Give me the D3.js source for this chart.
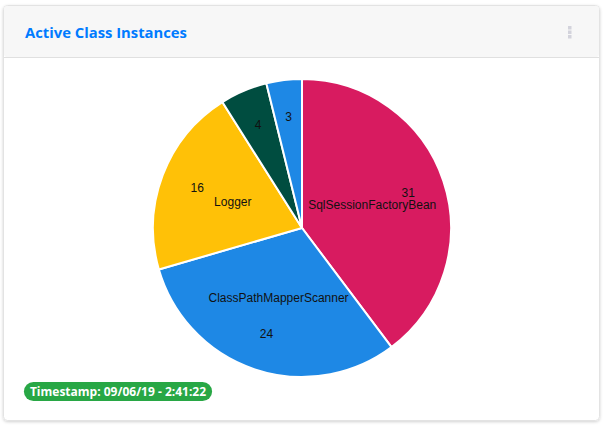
<!DOCTYPE html>
<html>
<head>
<meta charset="utf-8">
<script src="https://cdn.jsdelivr.net/npm/d3@7"></script>
<style>
  html, body { margin: 0; padding: 0; background: #fff; }
  body { width: 604px; height: 425px; overflow: hidden; }
</style>
</head>
<body>
<svg id="chart" width="604" height="425"></svg>
<script>
// data
const categories = ["SqlSessionFactoryBean", "ClassPathMapperScanner", "Logger", "MapperFactoryBean", "SqlSessionTemplate"];
const values = [31, 24, 16, 4, 3];
const colors = ["#d81b60", "#1e88e5", "#ffc107", "#004d40", "#1e88e5"];
const title = "Active Class Instances";
const timestamp = "Timestamp: 09/06/19 - 2:41:22";

const svg = d3.select("#chart");

// card shadow + body
const defs = svg.append("defs");
const f = defs.append("filter").attr("id", "shadow").attr("x", "-5%").attr("y", "-5%").attr("width", "110%").attr("height", "110%");
f.append("feDropShadow").attr("dx", 0).attr("dy", 1).attr("stdDeviation", 1.5).attr("flood-color", "#000").attr("flood-opacity", 0.18);

svg.append("rect")
  .attr("x", 3.5).attr("y", 5.5).attr("width", 596).attr("height", 415)
  .attr("rx", 4).attr("fill", "#fff").attr("stroke", "#e3e3e3")
  .attr("filter", "url(#shadow)");

// header
const clip = defs.append("clipPath").attr("id", "hdr");
clip.append("rect").attr("x", 4).attr("y", 6).attr("width", 595).attr("height", 51).attr("rx", 3);
svg.append("rect")
  .attr("x", 4).attr("y", 6).attr("width", 595).attr("height", 51)
  .attr("fill", "#f7f7f7").attr("clip-path", "url(#hdr)");
svg.append("line")
  .attr("x1", 4).attr("x2", 599).attr("y1", 57.5).attr("y2", 57.5)
  .attr("stroke", "#e0e0e0");

svg.append("text")
  .attr("x", 25).attr("y", 38)
  .attr("font-family", "'Open Sans', 'Noto Sans', sans-serif")
  .attr("font-weight", "bold").attr("font-size", "14.8px")
  .attr("fill", "#007bff")
  .text(title);

// kebab menu
svg.append("g").selectAll("rect")
  .data([0, 1, 2])
  .join("rect")
  .attr("x", 568).attr("y", (d) => 26 + d * 4.5)
  .attr("width", 3.5).attr("height", 3.5)
  .attr("fill", "#d3d3dc");

// pie
const cx = 302, cy = 228, radius = 149;
const pie = d3.pie().sort(null).value((d) => d.value);
const arcs = pie(categories.map((c, i) => ({ name: c, value: values[i], color: colors[i] })));
const arc = d3.arc().innerRadius(0).outerRadius(radius);
const valueArc = d3.arc().innerRadius(112).outerRadius(112);
const nameArc = d3.arc().innerRadius(74).outerRadius(74);

const g = svg.append("g").attr("transform", `translate(${cx},${cy})`);

g.selectAll("path")
  .data(arcs)
  .join("path")
  .attr("d", arc)
  .attr("fill", (d) => d.data.color)
  .attr("stroke", "#fff")
  .attr("stroke-width", 2);

g.selectAll("text.val")
  .data(arcs)
  .join("text")
  .attr("class", "val")
  .attr("transform", (d) => `translate(${valueArc.centroid(d)})`)
  .attr("text-anchor", "middle").attr("dy", "0.35em")
  .attr("font-family", "'Liberation Sans', Arial, sans-serif")
  .attr("font-size", "12px").attr("fill", "#111")
  .text((d) => d.data.value);

// names only on slices big enough to hold them
g.selectAll("text.name")
  .data(arcs.filter((d) => d.data.value >= 10))
  .join("text")
  .attr("class", "name")
  .attr("transform", (d) => `translate(${nameArc.centroid(d)})`)
  .attr("text-anchor", "middle").attr("dy", "0.35em")
  .attr("font-family", "'Liberation Sans', Arial, sans-serif")
  .attr("font-size", "12px").attr("fill", "#111")
  .text((d) => d.data.name);

// timestamp badge
const badge = svg.append("g").attr("transform", "translate(23,382)");
const bt = badge.append("text")
  .attr("x", 95).attr("y", 13.5)
  .attr("text-anchor", "middle")
  .attr("font-family", "'Open Sans', 'Noto Sans', sans-serif")
  .attr("font-weight", "bold").attr("font-size", "12px")
  .attr("fill", "#fff")
  .text(timestamp);
const w = bt.node().getComputedTextLength();
badge.insert("rect", "text")
  .attr("x", 95 - w / 2 - 6).attr("y", 0)
  .attr("width", w + 12).attr("height", 19)
  .attr("rx", 9.5).attr("fill", "#28a745");
</script>
</body>
</html>
